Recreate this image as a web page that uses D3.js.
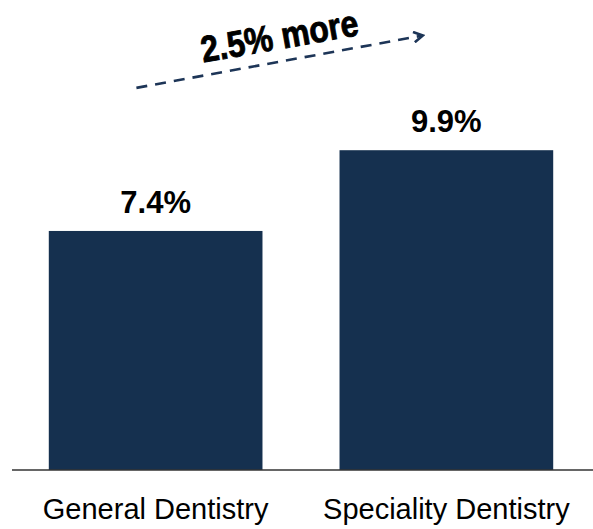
<!DOCTYPE html>
<html>
<head>
<meta charset="utf-8">
<script src="https://cdn.jsdelivr.net/npm/d3@7"></script>
<style>
  body { margin: 0; background: #fff; }
  svg { display: block; }
</style>
</head>
<body>
<div id="chart"></div>
<script>
const categories = ["General Dentistry", "Speciality Dentistry"];
const values = [7.4, 9.9];
const valueLabels = ["7.4%", "9.9%"];
const annotation = "2.5% more";

const width = 593, height = 529;
const baseY = 470;
const font = "'Liberation Sans', Arial, Helvetica, sans-serif";

const svg = d3.select("#chart")
  .append("svg")
  .attr("width", width)
  .attr("height", height);

const x = d3.scaleBand()
  .domain(categories)
  .range([11, 591])
  .paddingInner(0.265)
  .paddingOuter(0.13);

const y = d3.scaleLinear()
  .domain([0, 14.55])
  .range([baseY, 0]);

const barColor = "#15304f";

svg.selectAll("rect.bar")
  .data(values)
  .join("rect")
  .attr("class", "bar")
  .attr("x", (d, i) => x(categories[i]))
  .attr("y", d => y(d))
  .attr("width", x.bandwidth())
  .attr("height", d => y(0) - y(d))
  .attr("fill", barColor);

// value labels
svg.selectAll("text.val")
  .data(values)
  .join("text")
  .attr("class", "val")
  .attr("x", (d, i) => x(categories[i]) + x.bandwidth() / 2)
  .attr("y", d => y(d) - 18)
  .attr("text-anchor", "middle")
  .style("font-family", font)
  .attr("font-weight", "bold")
  .attr("font-size", 31)
  .attr("fill", "#000")
  .text((d, i) => valueLabels[i]);

// baseline axis
const xAxis = svg.append("g")
  .attr("transform", `translate(0,${baseY})`)
  .call(d3.axisBottom(x).tickSize(0).tickPadding(28));
xAxis.select(".domain")
  .attr("d", `M12,0H${width}`)
  .attr("stroke", "#333")
  .attr("stroke-width", 1.5);
xAxis.selectAll("text")
  .style("font-family", font)
  .attr("font-size", 29)
  .attr("fill", "#000")
  .attr("dy", "0.71em");

// dashed arrow annotation
const x0 = x(categories[0]) + x.bandwidth() * 0.41;
const x1 = x(categories[1]) + x.bandwidth() * 0.39;
const y0 = y(11.83), y1 = y(13.45);

svg.append("defs").append("marker")
  .attr("id", "arrow")
  .attr("viewBox", "0 0 10 10")
  .attr("refX", 8)
  .attr("refY", 5)
  .attr("markerWidth", 5)
  .attr("markerHeight", 5)
  .attr("orient", "auto")
  .append("path")
  .attr("d", "M1,1L8,5L1,9")
  .attr("fill", "none")
  .attr("stroke", "#1d3557")
  .attr("stroke-width", 2);

svg.append("line")
  .attr("x1", x0).attr("y1", y0)
  .attr("x2", x1).attr("y2", y1)
  .attr("stroke", "#1d3557")
  .attr("stroke-width", 2.6)
  .attr("stroke-dasharray", "11,8")
  .attr("marker-end", "url(#arrow)");

const tx = (x0 + x1) / 2 + 2, ty = (y0 + y1) / 2 - 13;
svg.append("text")
  .attr("transform", `translate(${tx},${ty}) rotate(-10) scale(0.86,1)`)
  .attr("text-anchor", "middle")
  .style("font-family", font)
  .attr("font-weight", "bold")
  .attr("font-size", 37)
  .attr("fill", "#000")
  .attr("stroke", "#000")
  .attr("stroke-width", 0.9)
  .text(annotation);
</script>
</body>
</html>
